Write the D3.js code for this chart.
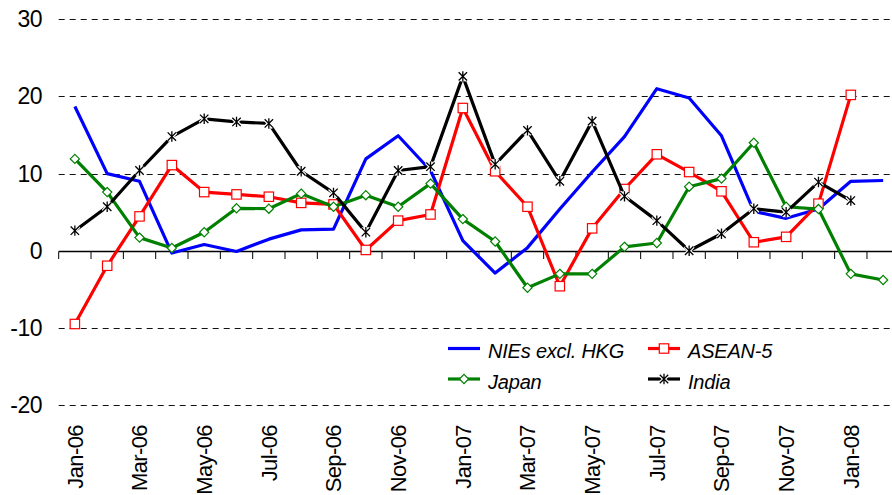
<!DOCTYPE html>
<html>
<head>
<meta charset="utf-8">
<script src="https://cdn.jsdelivr.net/npm/d3@7/dist/d3.min.js"></script>
<style>
  body { margin: 0; background: #fff; }
  svg { display: block; }
  text { font-family: "Liberation Sans", Arial, sans-serif; fill: #000; }
</style>
</head>
<body>
<svg id="chart" width="892" height="495"></svg>
<script>
// Monthly growth, % year on year
const months = [
  "Jan-06","Feb-06","Mar-06","Apr-06","May-06","Jun-06","Jul-06","Aug-06","Sep-06","Oct-06","Nov-06","Dec-06",
  "Jan-07","Feb-07","Mar-07","Apr-07","May-07","Jun-07","Jul-07","Aug-07","Sep-07","Oct-07","Nov-07","Dec-07",
  "Jan-08","Feb-08"
];
const xTickLabels = months.filter((m, i) => i % 2 === 0);
const yTicks = [-20, -10, 0, 10, 20, 30];

const niesExHkg = [18.7, 10.0, 9.0, -0.3, 0.8, -0.1, 1.5, 2.7, 2.8, 11.9, 14.9, 10.4,
                   1.3, -2.9, 0.4, 5.4, 10.2, 14.8, 21.0, 19.8, 14.9, 5.1, 4.2, 5.4, 9.0, 9.1];
const asean5    = [-9.5, -1.95, 4.45, 11.1, 7.6, 7.3, 7.0, 6.2, 6.0, 0.1, 3.9, 4.7,
                   18.5, 10.3, 5.7, -4.6, 2.9, 8.0, 12.5, 10.2, 7.7, 1.1, 1.8, 6.1, 20.2, null];
const japan     = [11.9, 7.6, 1.7, 0.35, 2.4, 5.5, 5.45, 7.4, 5.7, 7.2, 5.7, 8.7,
                   4.1, 1.2, -4.8, -3.0, -3.0, 0.5, 1.0, 8.3, 9.35, 14.0, 5.7, 5.4, -3.0, -3.8];
const india     = [2.6, 5.7, 10.4, 14.8, 17.1, 16.7, 16.5, 10.3, 7.5, 2.4, 10.4, 10.9,
                   22.6, 11.2, 15.6, 9.0, 16.8, 7.05, 3.9, 0.0, 2.2, 5.45, 5.0, 8.9, 6.5, null];

const seriesNames = ["NIEs excl. HKG", "ASEAN-5", "Japan", "India"];
const seriesColors = ["#0000ff", "#ff0000", "#008000", "#000000"];
const seriesMarkers = ["none", "square", "diamond", "star"];
const seriesValues = [niesExHkg, asean5, japan, india];

const svg = d3.select("#chart");
const x = d3.scaleBand().domain(months).range([58.7, 899.3]).padding(0);
const y = d3.scaleLinear().domain([-20, 30]).range([405, 19.3]);
const cx = m => x(m) + x.bandwidth() / 2;

// dashed gridlines
svg.append("g")
  .selectAll("line")
  .data(yTicks.filter(v => v !== 0))
  .join("line")
  .attr("x1", 58.7).attr("x2", 892)
  .attr("y1", d => Math.round(y(d)) + 0.5).attr("y2", d => Math.round(y(d)) + 0.5)
  .attr("stroke", "#111").attr("stroke-width", 1)
  .attr("stroke-dasharray", "6,5");

// y tick labels
svg.append("g")
  .selectAll("text")
  .data(yTicks)
  .join("text")
  .attr("x", 42)
  .attr("y", d => y(d))
  .attr("dy", "0.35em")
  .attr("text-anchor", "end")
  .style("font-size", "23px")
  .style("letter-spacing", "-0.5px")
  .text(d => d);

// x axis along zero, ticks at month boundaries
const y0 = Math.round(y(0)) + 0.5;
const axis = svg.append("g");
axis.append("line")
  .attr("x1", 58.7).attr("x2", 892).attr("y1", y0).attr("y2", y0)
  .attr("stroke", "#000").attr("stroke-width", 1.3);
axis.selectAll("line.tick")
  .data(months)
  .join("line")
  .attr("class", "tick")
  .attr("x1", d => x(d)).attr("x2", d => x(d))
  .attr("y1", y0).attr("y2", y0 + 7.5)
  .attr("stroke", "#000").attr("stroke-width", 1);

// rotated month labels
svg.append("g")
  .selectAll("text")
  .data(xTickLabels)
  .join("text")
  .attr("transform", d => `translate(${cx(d)},425) rotate(-90)`)
  .attr("dy", "0.36em")
  .attr("text-anchor", "end")
  .style("font-size", "22px")
  .style("letter-spacing", "-0.6px")
  .text(d => d);

// marker drawing
function drawMarker(g, type, color) {
  if (type === "square") {
    g.append("rect").attr("x", -4.7).attr("y", -4.7).attr("width", 9.4).attr("height", 9.4)
      .attr("fill", "#fff").attr("stroke", color).attr("stroke-width", 1.2);
  } else if (type === "diamond") {
    g.append("path").attr("d", "M0,-4.6L4.6,0L0,4.6L-4.6,0Z")
      .attr("fill", "#fff").attr("stroke", color).attr("stroke-width", 1.2);
  } else if (type === "star") {
    const d = "M-4.2,-4.2L4.2,4.2M-4.2,4.2L4.2,-4.2M0,-5.2L0,5.2";
    g.append("path").attr("d", d).attr("stroke", "#fff").attr("stroke-width", 3.6).attr("fill", "none");
    g.append("path").attr("d", d).attr("stroke", color).attr("stroke-width", 1.3).attr("fill", "none");
  }
}

const line = d3.line()
  .defined(d => d.v != null)
  .x(d => cx(d.m))
  .y(d => y(d.v));

seriesValues.forEach((vals, si) => {
  const pts = vals.map((v, i) => ({ m: months[i], v }));
  const g = svg.append("g");
  g.append("path")
    .datum(pts)
    .attr("d", line)
    .attr("fill", "none")
    .attr("stroke", seriesColors[si])
    .attr("stroke-width", 3.2)
    .attr("stroke-linejoin", "round");
  if (seriesMarkers[si] !== "none") {
    g.selectAll("g.mk")
      .data(pts.filter(p => p.v != null))
      .join("g")
      .attr("class", "mk")
      .attr("transform", p => `translate(${cx(p.m)},${y(p.v)})`)
      .each(function () { drawMarker(d3.select(this), seriesMarkers[si], seriesColors[si]); });
  }
});

// legend, two columns
const legendPos = [
  { x: 448, y: 348.5 }, { x: 648, y: 348.5 },
  { x: 448, y: 379 },   { x: 648, y: 379 }
];
seriesNames.forEach((name, si) => {
  const p = legendPos[si];
  const g = svg.append("g").attr("transform", `translate(${p.x},${p.y})`);
  g.append("line").attr("x1", 0).attr("x2", 32).attr("y1", 0).attr("y2", 0)
    .attr("stroke", seriesColors[si]).attr("stroke-width", 3.2);
  if (seriesMarkers[si] !== "none") {
    drawMarker(g.append("g").attr("transform", "translate(16,0)"), seriesMarkers[si], seriesColors[si]);
  }
  g.append("text")
    .attr("x", 40).attr("y", 9.5)
    .style("font-size", "20px")
    .style("font-style", "italic")
    .style("letter-spacing", "-0.2px")
    .text(name);
});
</script>
</body>
</html>
